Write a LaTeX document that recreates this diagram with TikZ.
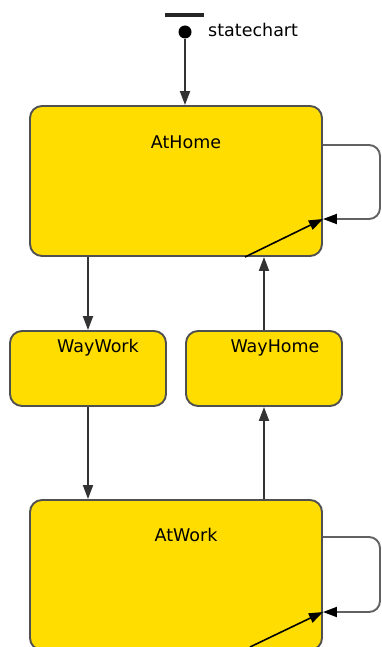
\documentclass[tikz,border=0pt]{standalone}
\usepackage{fontspec}
\setmainfont{DejaVu Sans}
\usetikzlibrary{arrows.meta}
\definecolor{stfill}{RGB}{255,221,0}
\definecolor{stline}{RGB}{80,80,80}
\tikzset{
  statebox/.style={draw=stline, line width=1.9pt, fill=stfill, rounded corners=12pt, inner sep=0pt},
  lbl/.style={font=\fontsize{17.5}{20}\selectfont, inner sep=0pt},
  arr/.style={draw=black!80, line width=1.9pt, -{Triangle[length=14pt,width=10pt]}},
  loopline/.style={draw=stline!90, line width=1.9pt, rounded corners=11pt, -{Triangle[length=14pt,width=10pt,fill=black,color=black]}},
  diag/.style={draw=black, line width=1.6pt, -{Triangle[length=14pt,width=10pt]}}
}
\begin{document}
\begin{tikzpicture}[x=1pt,y=-1pt]
\useasboundingbox (0,0) rectangle (382,647);
% states
\node[statebox, minimum width=292pt, minimum height=150pt] (athome) at (176,181) {};
\node[statebox, minimum width=156pt, minimum height=75pt] (ww) at (88,368.5) {};
\node[statebox, minimum width=156pt, minimum height=75pt] (wh) at (264,368.5) {};
\node[statebox, minimum width=292pt, minimum height=150pt] (atwork) at (176,575) {};
% labels
\node[lbl] (tAtHome) at (186,142) {AtHome};
\node[lbl] (tWayWork) at (98,348) {WayWork};
\node[lbl] (tWayHome) at (275,348) {WayHome};
\node[lbl] (tAtWork) at (186,535) {AtWork};
% initial
\coordinate (barL) at (165,15);
\coordinate (barR) at (204,15);
\draw[line width=3.2pt, black!85] (barL) -- (barR);
\node[circle, fill=black, inner sep=0pt, minimum size=13pt] (init) at (185,32) {};
\node[lbl, anchor=west] (tsc) at (208,30) {statechart};
\draw[arr] (init) -- (init |- athome.north);
% transitions
\draw[arr] (ww.north |- athome.south) -- (ww.north);
\draw[arr] (ww.south) -- (ww.south |- atwork.north);
\draw[arr] (wh.north) -- (wh.north |- athome.south);
\draw[arr] (wh.south |- atwork.north) -- (wh.south);
% self loops
\coordinate (h1) at (athome.east |- 0,145);
\coordinate (h2) at (athome.east |- 0,219);
\coordinate (hb) at (245,257);
\draw[loopline] (h1) -- (380,145) -- (380,219) -- (h2);
\draw[diag] (hb) -- (h2);
\coordinate (w1) at (atwork.east |- 0,537);
\coordinate (w2) at (atwork.east |- 0,612);
\coordinate (wb) at (250,647);
\draw[loopline] (w1) -- (380,537) -- (380,612) -- (w2);
\draw[diag] (wb) -- (w2);
\end{tikzpicture}
\end{document}
